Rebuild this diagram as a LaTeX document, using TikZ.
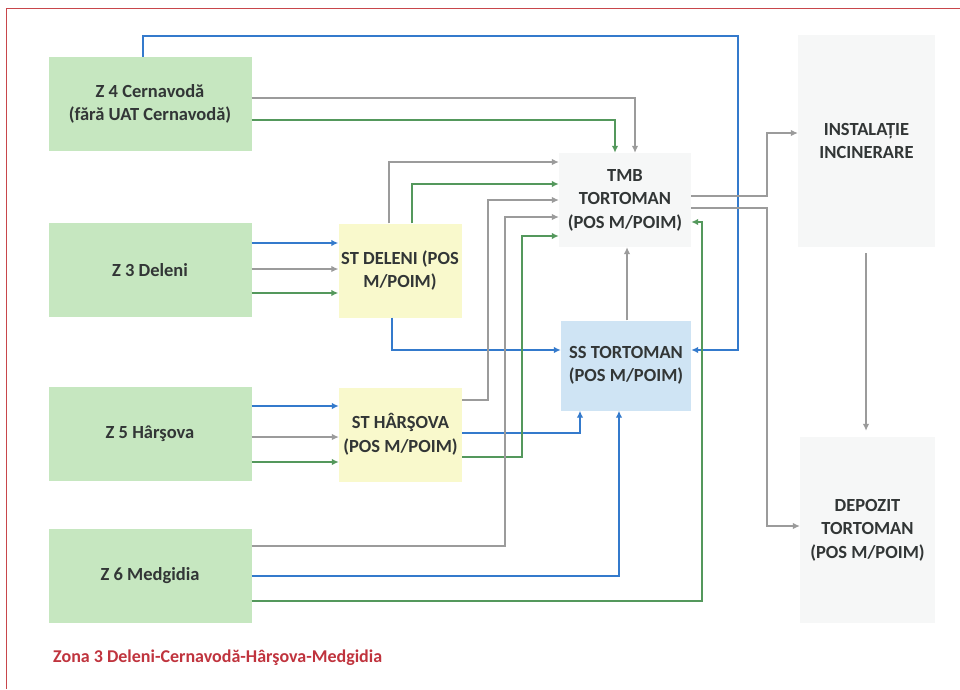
\documentclass[tikz,border=0pt]{standalone}
\usepackage{fontspec}
\setmainfont{Carlito}
\usetikzlibrary{arrows.meta}
\definecolor{boxgreen}{RGB}{198,231,192}
\definecolor{boxyellow}{RGB}{249,249,204}
\definecolor{boxblue}{RGB}{207,228,244}
\definecolor{boxgray}{RGB}{246,247,247}
\definecolor{txt}{RGB}{50,54,54}
\definecolor{lnblue}{RGB}{52,122,204}
\definecolor{lngreen}{RGB}{84,152,92}
\definecolor{lngray}{RGB}{155,155,155}
\definecolor{frame}{RGB}{200,70,75}
\definecolor{capred}{RGB}{192,52,62}
\begin{document}
\begin{tikzpicture}[x=1pt,y=-1pt,
  box/.style={draw=none, inner sep=0pt, align=center, text=txt,
    font=\bfseries\fontsize{18.5}{23.5}\selectfont},
  zone/.style={box, fill=boxgreen, minimum width=203pt, minimum height=94pt},
  sta/.style={box, fill=boxyellow, minimum width=123pt, minimum height=94pt},
  tip/.style={-{Latex[length=7pt,width=6.5pt]}},
  bl/.style={draw=lnblue, line width=1.5pt, tip},
  gr/.style={draw=lngreen, line width=1.5pt, tip},
  gy/.style={draw=lngray, line width=1.2pt, tip},
]
\useasboundingbox (0,0) rectangle (960,689);
\fill[white] (0,0) rectangle (960,689);
% frame
\draw[frame, line width=1pt] (6,689) -- (6,8) -- (960,8);

% nodes
\node[zone] (z4) at (150,104) {Z 4 Cernavodă\\(fără UAT Cernavodă)};
\node[zone] (z3) at (150,270) {Z 3 Deleni};
\node[zone] (z5) at (150,433.5) {Z 5 Hârşova};
\node[zone] (z6) at (150,575.5) {Z 6 Medgidia};
\node[sta] (std) at (400,270.5) {ST DELENI (POS\\M/POIM)};
\node[sta] (sth) at (400.5,434.5) {ST HÂRŞOVA\\(POS M/POIM)};
\node[box, fill=boxgray, minimum width=132pt, minimum height=94pt] (tmb) at (625,200) {TMB\\TORTOMAN\\(POS M/POIM)};
\node[box, fill=boxblue, minimum width=130pt, minimum height=90pt] (ss) at (626,365.5) {SS TORTOMAN\\(POS M/POIM)};
\node[box, fill=boxgray, minimum width=137pt, minimum height=212pt] (inc) at (866.5,141) {INSTALAȚIE\\INCINERARE};
\node[box, fill=boxgray, minimum width=135pt, minimum height=186pt] (dep) at (867.5,530) {DEPOZIT\\TORTOMAN\\(POS M/POIM)};

\node[anchor=west, inner sep=0pt, text=capred, font=\bfseries\fontsize{18}{21}\selectfont] (cap) at (53,658) {Zona 3 Deleni-Cernavodă-Hârşova-Medgidia};

% Z4
\draw[bl] (z4.north -| 143,0) -- (143,36) -| (738,350) -- (ss.east |- 0,350);
\draw[gy] (z4.east |- 0,98) -| (tmb.north -| 635,0);
\draw[gr] (z4.east |- 0,120) -| (tmb.north -| 615,0);

% Z3 -> ST Deleni
\draw[bl] (z3.east |- 0,243) -- (std.west |- 0,243);
\draw[gy] (z3.east |- 0,269) -- (std.west |- 0,269);
\draw[gr] (z3.east |- 0,293) -- (std.west |- 0,293);

% ST Deleni outputs
\draw[gy] (std.north -| 389,0) |- (tmb.west |- 0,162);
\draw[gr] (std.north -| 412,0) |- (tmb.west |- 0,184);
\draw[bl] (std.south -| 392,0) |- (ss.west |- 0,350);

% Z5 -> ST Harsova
\draw[bl] (z5.east |- 0,406) -- (sth.west |- 0,406);
\draw[gy] (z5.east |- 0,437) -- (sth.west |- 0,437);
\draw[gr] (z5.east |- 0,462) -- (sth.west |- 0,462);

% ST Harsova outputs
\draw[gy] (sth.east |- 0,400) -- (488,400) |- (tmb.west |- 0,200);
\draw[bl] (sth.east |- 0,433) -| (ss.south -| 580,0);
\draw[gr] (sth.east |- 0,457) -- (522,457) |- (tmb.west |- 0,236);

% Z6 outputs
\draw[gy] (z6.east |- 0,546) -- (505,546) |- (tmb.west |- 0,217);
\draw[bl] (z6.east |- 0,576) -| (ss.south -| 619,0);
\draw[gr] (z6.east |- 0,601) -- (702,601) |- (tmb.east |- 0,222);

% SS -> TMB
\draw[gy] (ss.north -| 627,0) -- (tmb.south -| 627,0);

% TMB outputs
\draw[gy] (tmb.east |- 0,196) -- (767,196) |- (inc.west |- 0,133);
\draw[gy] (tmb.east |- 0,208) -- (767,208) |- (dep.west |- 0,526);

% INC -> DEP
\draw[gy] ([yshift=-6pt]inc.south -| 866,0) -- ([yshift=6pt]dep.north -| 866,0);
\end{tikzpicture}
\end{document}
